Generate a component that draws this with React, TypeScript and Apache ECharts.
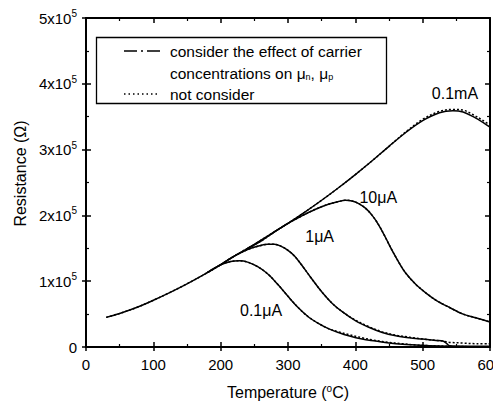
import React, { useEffect, useRef } from "react";
import * as echarts from "echarts";

// Temperature (°C) and resistance (Ω)
const T_01mA = [30, 50, 75, 100, 125, 150, 175, 200, 225, 250, 275, 300, 325, 350, 375, 400, 425, 450, 475, 500, 525, 545, 560, 575, 590, 600];
const R_01mA = [0.45, 0.51, 0.6, 0.71, 0.83, 0.96, 1.1, 1.25, 1.41, 1.56, 1.72, 1.88, 2.05, 2.23, 2.42, 2.62, 2.83, 3.05, 3.26, 3.44, 3.56, 3.59, 3.57, 3.5, 3.41, 3.34];
const R_01mA_nc = [0.45, 0.51, 0.6, 0.71, 0.83, 0.96, 1.1, 1.25, 1.41, 1.56, 1.72, 1.88, 2.05, 2.23, 2.42, 2.62, 2.83, 3.05, 3.27, 3.46, 3.58, 3.61, 3.6, 3.53, 3.44, 3.37];

const T_10uA = [240, 260, 280, 300, 320, 340, 360, 375, 385, 395, 405, 415, 425, 435, 445, 455, 465, 475, 490, 505, 520, 540, 560, 580, 600];
const R_10uA = [1.5, 1.61, 1.75, 1.88, 1.99, 2.09, 2.17, 2.21, 2.23, 2.22, 2.18, 2.11, 2.0, 1.85, 1.66, 1.46, 1.28, 1.12, 0.95, 0.82, 0.71, 0.6, 0.5, 0.44, 0.38];
const R_10uA_nc = [1.5, 1.61, 1.75, 1.88, 1.99, 2.09, 2.17, 2.21, 2.23, 2.22, 2.18, 2.11, 2.0, 1.85, 1.66, 1.46, 1.28, 1.12, 0.95, 0.82, 0.71, 0.6, 0.5, 0.44, 0.38];

const T_1uA = [200, 220, 240, 255, 270, 280, 290, 300, 310, 320, 335, 350, 365, 380, 400, 420, 440, 460, 480, 500, 520, 530, 535, 540, 560, 580, 600];
const R_1uA = [1.25, 1.38, 1.48, 1.53, 1.56, 1.56, 1.53, 1.47, 1.38, 1.25, 1.04, 0.84, 0.67, 0.54, 0.4, 0.3, 0.22, 0.17, 0.14, 0.12, 0.1, 0.09, 0.06, 0.02, 0.01, 0.01, 0.01];
const R_1uA_nc = [1.25, 1.38, 1.48, 1.53, 1.56, 1.56, 1.53, 1.47, 1.38, 1.25, 1.04, 0.84, 0.67, 0.54, 0.41, 0.31, 0.23, 0.18, 0.15, 0.12, 0.1, 0.09, 0.08, 0.07, 0.06, 0.05, 0.05];

const T_01uA = [180, 200, 215, 228, 240, 255, 270, 285, 300, 315, 330, 345, 360, 375, 390, 410, 430, 450, 470, 490, 510, 540, 570, 600];
const R_01uA = [1.13, 1.25, 1.3, 1.31, 1.29, 1.22, 1.11, 0.95, 0.77, 0.6, 0.46, 0.36, 0.28, 0.22, 0.17, 0.12, 0.09, 0.06, 0.04, 0.03, 0.02, 0.01, 0.005, 0.003];
const R_01uA_nc = [1.13, 1.25, 1.3, 1.31, 1.29, 1.22, 1.11, 0.95, 0.77, 0.6, 0.46, 0.36, 0.28, 0.23, 0.19, 0.14, 0.1, 0.07, 0.05, 0.03, 0.02, 0.01, 0.005, 0.003];

// curve annotations: [T, R(x1e5), text]
const curveLabels: [number, number, string][] = [
  [548, 3.86, "0.1mA"],
  [434, 2.27, "10μA"],
  [347, 1.68, "1μA"],
  [260, 0.55, "0.1μA"],
];

const X_TICKS = [0, 100, 200, 300, 400, 500, 600];
const Y_UNIT = 1e5;

const FONT = "'Liberation Sans', Arial, sans-serif";

function pts(t: number[], r: number[]) {
  return t.map((x, i) => [x, r[i] * Y_UNIT]);
}

export default function App() {
  const ref = useRef<HTMLDivElement>(null);
  useEffect(() => {
    const chart = echarts.init(ref.current!, null, { renderer: "svg" });
    const solid = (name: string, t: number[], r: number[], extra: any = {}) => ({
      type: "line",
      name,
      data: pts(t, r),
      showSymbol: false,
      smooth: 0.35,
      lineStyle: { color: "#000", width: 1.5 },
      z: 3,
      ...extra,
    });
    const dotted = (name: string, t: number[], r: number[]) => ({
      type: "line",
      name,
      data: pts(t, r),
      showSymbol: false,
      smooth: 0.35,
      lineStyle: { color: "#000", width: 1.5, type: [2, 2] },
      z: 2,
    });
    const axisFont = { fontFamily: FONT, fontSize: 15, color: "#000" };
    const option: any = {
      animation: false,
      grid: { left: 86, right: 3, top: 18, bottom: 55, outerBoundsMode: "none", containLabel: false },
      xAxis: [
        {
          type: "value", min: 0, max: 600, interval: 100, position: "bottom",
          axisLine: { show: true, onZero: false, lineStyle: { color: "#000", width: 2 } },
          axisTick: { show: true, inside: true, length: 5, lineStyle: { color: "#000", width: 1.5 } },
          minorTick: { show: true, splitNumber: 2, length: 3, lineStyle: { color: "#000", width: 1.2 } },
          splitLine: { show: false },
          axisLabel: { ...axisFont, margin: 10, hideOverlap: false, formatter: (v: number) => (X_TICKS.includes(v) ? String(v) : "") },
          name: "Temperature ({sup|o}C)",
          nameLocation: "middle",
          nameGap: 36,
          nameTextStyle: { ...axisFont, fontSize: 16, rich: { sup: { fontFamily: FONT, fontSize: 10, color: "#000", padding: [0, 0, 9, 0] } } },
        },
        {
          type: "value", min: 0, max: 600, interval: 100, position: "bottom", offset: 0,
          axisLine: { show: false },
          axisTick: { show: true, inside: false, length: 4, lineStyle: { color: "#000", width: 1.5 } },
          axisLabel: { show: false },
          splitLine: { show: false },
        },
        {
          type: "value", min: 0, max: 600, interval: 100, position: "top",
          axisLine: { show: true, onZero: false, lineStyle: { color: "#000", width: 2 } },
          axisTick: { show: true, inside: true, length: 5, lineStyle: { color: "#000", width: 1.5 } },
          minorTick: { show: true, splitNumber: 2, length: 3, lineStyle: { color: "#000", width: 1.2 } },
          axisLabel: { show: false },
          splitLine: { show: false },
        },
      ],
      yAxis: [
        {
          type: "value", min: 0, max: 5 * Y_UNIT, interval: Y_UNIT, position: "left",
          axisLine: { show: true, onZero: false, lineStyle: { color: "#000", width: 2 } },
          axisTick: { show: true, inside: true, length: 5, lineStyle: { color: "#000", width: 1.5 } },
          minorTick: { show: true, splitNumber: 2, length: 3, lineStyle: { color: "#000", width: 1.2 } },
          splitLine: { show: false },
          axisLabel: {
            ...axisFont,
            margin: 9,
            formatter: (v: number) => (v === 0 ? "0" : `${v / Y_UNIT}x10{sup|5}`),
            rich: { sup: { fontFamily: FONT, fontSize: 10, color: "#000", padding: [0, 0, 9, 0] } },
          },
          name: "Resistance (Ω)",
          nameLocation: "middle",
          nameGap: 58,
          nameRotate: 90,
          nameTextStyle: { ...axisFont, fontSize: 16, padding: [0, 0, 0, 18] },
        },
        {
          type: "value", min: 0, max: 5 * Y_UNIT, interval: Y_UNIT, position: "left", offset: 0,
          axisLine: { show: false },
          axisTick: { show: true, inside: false, length: 4, lineStyle: { color: "#000", width: 1.5 } },
          axisLabel: { show: false },
          splitLine: { show: false },
        },
        {
          type: "value", min: 0, max: 5 * Y_UNIT, interval: Y_UNIT, position: "right",
          axisLine: { show: true, onZero: false, lineStyle: { color: "#000", width: 2 } },
          axisTick: { show: true, inside: true, length: 5, lineStyle: { color: "#000", width: 1.5 } },
          minorTick: { show: true, splitNumber: 2, length: 3, lineStyle: { color: "#000", width: 1.2 } },
          axisLabel: { show: false },
          splitLine: { show: false },
        },
      ],
      series: [
        dotted("0.1mA nc", T_01mA, R_01mA_nc),
        dotted("10μA nc", T_10uA, R_10uA_nc),
        dotted("1μA nc", T_1uA, R_1uA_nc),
        dotted("0.1μA nc", T_01uA, R_01uA_nc),
        solid("0.1mA", T_01mA, R_01mA),
        solid("10μA", T_10uA, R_10uA),
        solid("1μA", T_1uA, R_1uA),
        solid("0.1μA", T_01uA, R_01uA, {
          markPoint: {
            symbol: "circle",
            symbolSize: 0,
            silent: true,
            data: curveLabels.map(([t, r, s]) => ({
              coord: [t, r * Y_UNIT],
              label: { show: true, formatter: s, position: "inside", fontFamily: FONT, fontSize: 16, color: "#000" },
            })),
          },
        }),
      ],
      graphic: [
        { type: "rect", shape: { x: 96.5, y: 37.5, width: 290, height: 66 }, style: { fill: "#fff", stroke: "#000", lineWidth: 1.3 }, z: 10 },
        { type: "line", shape: { x1: 124, y1: 51, x2: 160, y2: 51 }, style: { stroke: "#000", lineWidth: 1.3, lineDash: [13, 4, 2, 4] }, z: 11 },
        { type: "line", shape: { x1: 124, y1: 94, x2: 160, y2: 94 }, style: { stroke: "#000", lineWidth: 1.5, lineDash: [1.5, 3] }, z: 11 },
        { type: "text", x: 170, y: 51, style: { text: "consider the effect of carrier", font: `15.5px ${FONT}`, fill: "#000", verticalAlign: "middle" }, z: 11 },
        {
          type: "text", x: 170, y: 73, z: 11,
          style: {
            text: "concentrations on μ{sub|n}, μ{sub|p}",
            font: `15.5px ${FONT}`, fill: "#000", verticalAlign: "middle",
            rich: { sub: { fontSize: 9, fontFamily: FONT, fill: "#000", padding: [8, 0, 0, 0] } },
          },
        },
        { type: "text", x: 170, y: 94, style: { text: "not consider", font: `15.5px ${FONT}`, fill: "#000", verticalAlign: "middle" }, z: 11 },
      ],
    };
    chart.setOption(option);
    return () => chart.dispose();
  }, []);
  return <div ref={ref} style={{ position: "fixed", left: 0, top: 0, width: 493, height: 402, background: "#fff" }} />;
}
